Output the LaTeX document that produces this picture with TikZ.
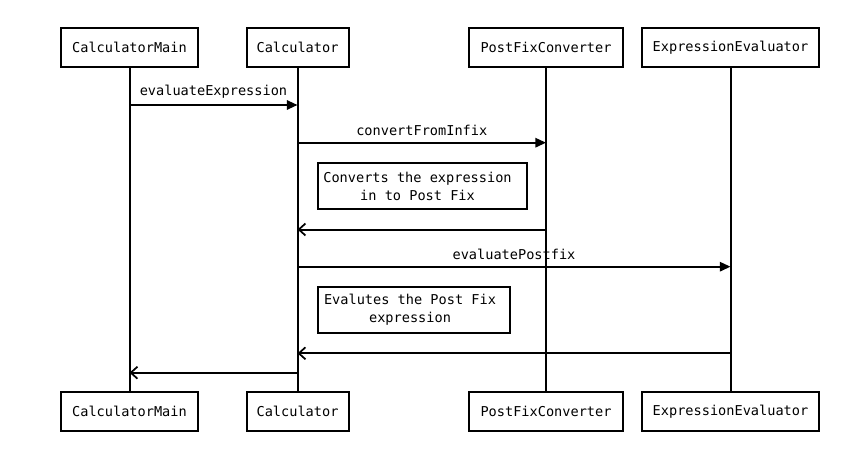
\documentclass[tikz,border=0pt]{standalone}
\usepackage{fontspec}
\setmonofont{DejaVu Sans Mono}
\usetikzlibrary{arrows.meta}
\begin{document}
\begin{tikzpicture}[x=0.75pt,y=-0.75pt,
  font=\ttfamily\fontsize{10.2}{13.5}\selectfont,
  actor/.style={draw=black,line width=1.5pt,fill=white,minimum height=39*0.75pt,inner sep=0pt,anchor=center},
  life/.style={line width=1.5pt},
  call/.style={line width=1.5pt,-{Triangle[length=8pt,width=7pt]}},
  ret/.style={line width=1.5pt,-{Straight Barb[length=5pt,width=9pt,line width=1.3pt]}},
  notebox/.style={draw=black,line width=1.5pt,fill=white,inner sep=0pt},
  notetext/.style={align=center,inner sep=0pt},
  lbl/.style={inner sep=0pt,anchor=south}]
\useasboundingbox (0,0) rectangle (848,456);
\fill[white] (0,0) rectangle (848,456);
% top actors
\node[actor,minimum width=137*0.75pt] (tm) at (129.5,47.5) {CalculatorMain};
\node[actor,minimum width=102*0.75pt] (tc) at (297.5,47.5) {Calculator};
\node[actor,minimum width=154*0.75pt] (tp) at (546,47.5) {PostFixConverter};
\node[actor,minimum width=177*0.75pt] (te) at (730.5,47.5) {ExpressionEvaluator};
% bottom actors
\node[actor,minimum width=137*0.75pt] (bm) at (129.5,411.5) {CalculatorMain};
\node[actor,minimum width=102*0.75pt] (bc) at (297.5,411.5) {Calculator};
\node[actor,minimum width=154*0.75pt] (bp) at (546,411.5) {PostFixConverter};
\node[actor,minimum width=177*0.75pt] (be) at (730.5,411.5) {ExpressionEvaluator};
% lifelines
\draw[life] (tm.south) -- (bm.north);
\draw[life] (tc.south) -- (bc.north);
\draw[life] (tp.south) -- (bp.north);
\draw[life] (te.south) -- (be.north);
% message anchor points
\coordinate (m1a) at (tm.south |- 0,105);
\coordinate (m1b) at (tc.south |- 0,105);
\coordinate (m2a) at (tc.south |- 0,142.7);
\coordinate (m2b) at (tp.south |- 0,142.7);
\coordinate (m3a) at (tp.south |- 0,229.5);
\coordinate (m3b) at (tc.south |- 0,229.5);
\coordinate (m4a) at (tc.south |- 0,266.7);
\coordinate (m4b) at (te.south |- 0,266.7);
\coordinate (m5a) at (te.south |- 0,353.3);
\coordinate (m5b) at (tc.south |- 0,353.3);
\coordinate (m6a) at (tc.south |- 0,372.7);
\coordinate (m6b) at (tm.south |- 0,372.7);
% messages
\draw[call] (m1a) -- node[lbl,above=6pt*0.75] (l1) {evaluateExpression} (m1b);
\draw[call] (m2a) -- node[lbl,above=6pt*0.75] (l2) {convertFromInfix} (m2b);
\draw[ret] (m3a) -- (m3b);
\draw[call] (m4a) -- node[lbl,above=6pt*0.75] (l4) {evaluatePostfix} (m4b);
\draw[ret] (m5a) -- (m5b);
\draw[ret] (m6a) -- (m6b);
% notes
\node[notebox,minimum width=209*0.75pt,minimum height=46*0.75pt] (n1) at (422.5,186) {};
\node[notetext] (n1t) at (417.5,186) {Converts the expression\\in to Post Fix};
\node[notebox,minimum width=192*0.75pt,minimum height=46*0.75pt] (n2) at (414,309.7) {};
\node[notetext] (n2t) at (410,309.7) {Evalutes the Post Fix\\expression};
\end{tikzpicture}
\end{document}
